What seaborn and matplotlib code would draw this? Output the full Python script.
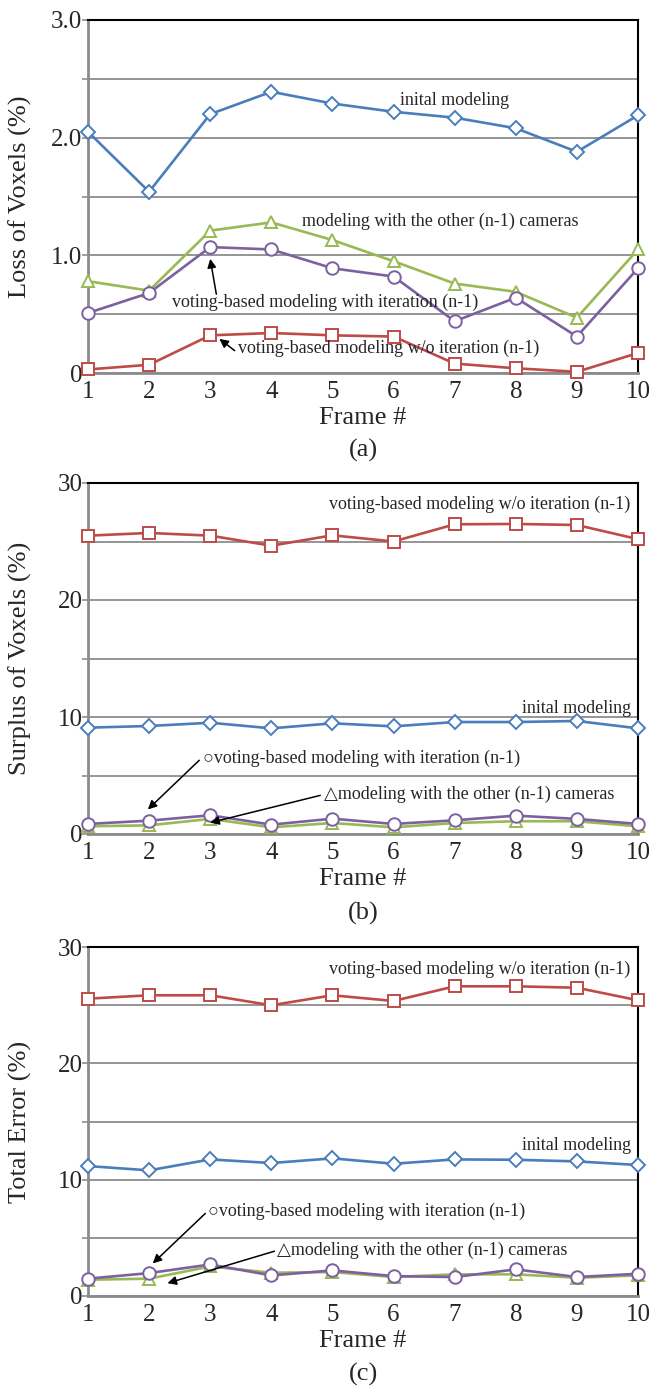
import matplotlib
matplotlib.use("Agg")
import matplotlib.pyplot as plt
import seaborn as sns
import numpy as np

sns.set_theme(style="white")
plt.rcParams['font.family'] = ['Liberation Serif', 'DejaVu Serif']

frames = [1, 2, 3, 4, 5, 6, 7, 8, 9, 10]

# (a) Loss of Voxels (%)
loss_initial = [2.05, 1.54, 2.20, 2.39, 2.29, 2.22, 2.17, 2.08, 1.88, 2.19]
loss_other = [0.78, 0.70, 1.21, 1.28, 1.13, 0.95, 0.76, 0.69, 0.47, 1.05]
loss_iter = [0.51, 0.68, 1.07, 1.05, 0.89, 0.82, 0.44, 0.64, 0.31, 0.89]
loss_noiter = [0.03, 0.07, 0.32, 0.34, 0.32, 0.31, 0.08, 0.04, 0.01, 0.17]

# (b) Surplus of Voxels (%)
sur_initial = [9.09, 9.23, 9.51, 9.03, 9.46, 9.20, 9.57, 9.57, 9.66, 9.03]
sur_other = [0.66, 0.74, 1.29, 0.57, 0.94, 0.57, 0.94, 1.09, 1.09, 0.66]
sur_iter = [0.86, 1.14, 1.60, 0.80, 1.31, 0.86, 1.17, 1.57, 1.29, 0.86]
sur_noiter = [25.50, 25.73, 25.50, 24.64, 25.53, 25.00, 26.47, 26.50, 26.41, 25.20]

# (c) Total Error (%)
tot_initial = [11.17, 10.80, 11.74, 11.43, 11.83, 11.37, 11.74, 11.71, 11.57, 11.26]
tot_other = [1.40, 1.49, 2.54, 2.00, 2.06, 1.63, 1.86, 1.86, 1.57, 1.77]
tot_iter = [1.49, 1.97, 2.71, 1.77, 2.20, 1.71, 1.63, 2.29, 1.63, 1.91]
tot_noiter = [25.56, 25.85, 25.85, 24.99, 25.85, 25.36, 26.62, 26.62, 26.50, 25.42]

c_blue = '#4A7EBB'
c_red = '#BE4B48'
c_green = '#98B954'
c_purple = '#7D60A0'
grid_c = '#8C8C8C'

W, H = 652, 1389
fig = plt.figure(figsize=(W / 100, H / 100), dpi=100)

def px_axes(left, right, top, bottom):
    return fig.add_axes([left / W, 1 - bottom / H, (right - left) / W, (bottom - top) / H])

ax_a = px_axes(88, 638, 20, 373)
ax_b = px_axes(88, 638, 483, 834)
ax_c = px_axes(88, 638, 947, 1296)

def draw(ax, initial, other, it, noiter):
    specs = [
        (other, c_green, '^', 9),
        (it, c_purple, 'o', 9),
        (noiter, c_red, 's', 8.5),
        (initial, c_blue, 'D', 7.5),
    ]
    for vals, col, mk, ms in specs:
        sns.lineplot(x=frames, y=vals, ax=ax, color=col, marker=mk, markersize=ms,
                     markerfacecolor='white', markeredgecolor=col, markeredgewidth=1.4,
                     linewidth=1.9, clip_on=False, zorder=3)

def style(ax, ymax, step, labels, ylabel, xlabel_y, cap, cap_y):
    ax.set_xlim(1, 10)
    ax.set_ylim(0, ymax)
    ticks = np.arange(0, ymax + step / 2, step)
    ax.set_yticks(ticks)
    ax.set_yticklabels(labels)
    ax.set_xticks(frames)
    ax.set_xticklabels([str(f) for f in frames])
    ax.tick_params(axis='y', length=4, width=1.2, color=grid_c, pad=0, labelsize=18, left=True)
    ax.tick_params(axis='x', length=0, pad=6, labelsize=18)
    ax.grid(axis='y', color=grid_c, linewidth=1.3)
    ax.grid(axis='x', visible=False)
    ax.set_axisbelow(True)
    for s in ['top', 'right']:
        ax.spines[s].set_color('black')
        ax.spines[s].set_linewidth(1.5)
        ax.spines[s].set_visible(True)
    for s in ['left', 'bottom']:
        ax.spines[s].set_color(grid_c)
        ax.spines[s].set_linewidth(2.0)
        ax.spines[s].set_visible(True)
    ax.set_ylabel(ylabel, fontsize=19)
    ax.yaxis.label.set_va('center')
    ax.yaxis.set_label_coords((20 - 88) / 550, 0.5)
    ax.set_xlabel('Frame #', fontsize=19)
    ax.xaxis.label.set_va('center')
    ax.xaxis.set_label_coords(0.5, -xlabel_y)
    fig.text(0.5 * (88 + 638) / W, 1 - cap_y / H, cap, fontsize=19, ha='center', va='center')

arrow_kw = dict(arrowstyle='-|>', color='black', lw=1.1, mutation_scale=13, shrinkA=0, shrinkB=0)
fs_ann = 13
fam = ['Liberation Serif', 'DejaVu Serif']

# Panel (a)
draw(ax_a, loss_initial, loss_other, loss_iter, loss_noiter)
style(ax_a, 3.0, 0.5, ['0', '', '1.0', '', '2.0', '', '3.0'], 'Loss of Voxels (%)', 45 / 353, '(a)', 450)
ax_a.text(6.1, 2.32, 'inital modeling', fontsize=fs_ann, ha='left', va='center')
ax_a.text(4.5, 1.29, 'modeling with the other (n-1) cameras', fontsize=fs_ann, ha='left', va='center')
ax_a.text(2.37, 0.60, 'voting-based modeling with iteration (n-1)', fontsize=fs_ann, ha='left', va='center')
ax_a.annotate('', xy=(3.0, 0.97), xytext=(3.1, 0.67), arrowprops=arrow_kw)
ax_a.text(3.45, 0.21, 'voting-based modeling w/o iteration (n-1)', fontsize=fs_ann, ha='left', va='center')
ax_a.annotate('', xy=(3.15, 0.29), xytext=(3.4, 0.19), arrowprops=arrow_kw)

# Panel (b)
draw(ax_b, sur_initial, sur_other, sur_iter, sur_noiter)
style(ax_b, 30, 5, ['0', '', '10', '', '20', '', '30'], 'Surplus of Voxels (%)', 45 / 351, '(b)', 913)
ax_b.text(9.88, 28.2, 'voting-based modeling w/o iteration (n-1)', fontsize=fs_ann, ha='right', va='center')
ax_b.text(9.88, 10.7, 'inital modeling', fontsize=fs_ann, ha='right', va='center')
ax_b.text(2.88, 6.45, '\u25cbvoting-based modeling with iteration (n-1)', fontsize=fs_ann, ha='left', va='center',
          family=fam)
ax_b.annotate('', xy=(1.98, 2.1), xytext=(2.82, 6.3), arrowprops=arrow_kw)
ax_b.text(4.86, 3.36, '\u25b3modeling with the other (n-1) cameras', fontsize=fs_ann, ha='left', va='center',
          family=fam)
ax_b.annotate('', xy=(3.0, 0.97), xytext=(4.8, 3.3), arrowprops=arrow_kw)

# Panel (c)
draw(ax_c, tot_initial, tot_other, tot_iter, tot_noiter)
style(ax_c, 30, 5, ['0', '', '10', '', '20', '', '30'], 'Total Error (%)', 45 / 349, '(c)', 1374)
ax_c.text(9.88, 28.1, 'voting-based modeling w/o iteration (n-1)', fontsize=fs_ann, ha='right', va='center')
ax_c.text(9.88, 12.95, 'inital modeling', fontsize=fs_ann, ha='right', va='center')
ax_c.text(2.96, 7.28, '\u25cbvoting-based modeling with iteration (n-1)', fontsize=fs_ann, ha='left', va='center',
          family=fam)
ax_c.annotate('', xy=(2.06, 2.8), xytext=(2.92, 7.1), arrowprops=arrow_kw)
ax_c.text(4.09, 3.93, '\u25b3modeling with the other (n-1) cameras', fontsize=fs_ann, ha='left', va='center',
          family=fam)
ax_c.annotate('', xy=(2.3, 1.1), xytext=(4.05, 3.85), arrowprops=arrow_kw)

fig.savefig('out.png', dpi=100, facecolor='white')
